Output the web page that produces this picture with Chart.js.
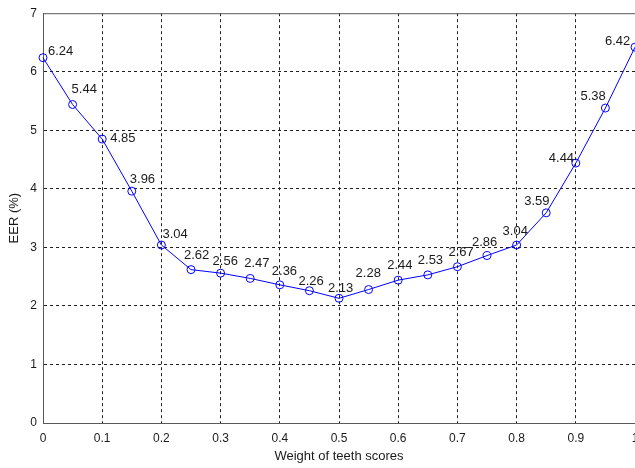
<!DOCTYPE html>
<html>
<head>
<meta charset="utf-8">
<script src="https://cdn.jsdelivr.net/npm/chart.js@4"></script>
<style>
  html, body { margin: 0; padding: 0; background: #fff; overflow: hidden; }
  #wrap { width: 700px; height: 468px; }
</style>
</head>
<body>
<div id="wrap"><canvas id="chart" width="700" height="468"></canvas></div>
<script>
// ── data ──
const weights = [0, 0.05, 0.1, 0.15, 0.2, 0.25, 0.3, 0.35, 0.4, 0.45, 0.5,
                 0.55, 0.6, 0.65, 0.7, 0.75, 0.8, 0.85, 0.9, 0.95, 1];
const eer = [6.24, 5.44, 4.85, 3.96, 3.04, 2.62, 2.56, 2.47, 2.36, 2.26, 2.13,
             2.28, 2.44, 2.53, 2.67, 2.86, 3.04, 3.59, 4.44, 5.38, 6.42];
const xTicks = [0, 0.1, 0.2, 0.3, 0.4, 0.5, 0.6, 0.7, 0.8, 0.9, 1];
const yTicks = [0, 1, 2, 3, 4, 5, 6, 7];

// label nudges in px (text left edge, text middle) relative to each marker
const labelNudge = [
  [5, -6], [-1, -15], [8, -1], [-2, -12], [1, -11], [-7, -14], [-8, -12],
  [-6, -15], [-8, -13], [-11, -9], [-11, -10], [-13, -16], [-11, -15],
  [-10, -14], [-9, -14], [-15, -13], [-14, -14], [-22, -11], [-27, -5],
  [-25, -12], [-30, -6]
];

const FONT = 'Liberation Sans, Arial, sans-serif';

const pointLabels = {
  id: 'pointLabels',
  afterDatasetsDraw(chart) {
    const ctx = chart.ctx;
    const meta = chart.getDatasetMeta(0);
    ctx.save();
    ctx.font = '13px ' + FONT;
    ctx.fillStyle = '#1a1a1a';
    ctx.textAlign = 'left';
    ctx.textBaseline = 'middle';
    meta.data.forEach((pt, i) => {
      const [dx, dy] = labelNudge[i];
      ctx.fillText(eer[i].toFixed(2), pt.x + dx, pt.y + dy);
    });
    ctx.restore();
  }
};

const frameBox = {
  id: 'frameBox',
  beforeDatasetsDraw(chart) {
    const { ctx, chartArea: a } = chart;
    ctx.save();
    ctx.strokeStyle = '#5a5a5a';
    ctx.lineWidth = 1;
    ctx.strokeRect(a.left + 0.5, a.top + 0.5, a.right - a.left, a.bottom - a.top);
    ctx.restore();
  }
};

const edgeless = (min, max) => c =>
  (c.tick && (c.tick.value === min || c.tick.value === max)) ? 'rgba(0,0,0,0)' : '#1e1e1e';

new Chart(document.getElementById('chart').getContext('2d'), {
  type: 'line',
  data: {
    datasets: [{
      data: weights.map((w, i) => ({ x: w, y: eer[i] })),
      borderColor: '#0000ff',
      borderWidth: 1,
      backgroundColor: 'rgba(0,0,0,0)',
      pointStyle: 'circle',
      pointRadius: 4,
      pointBorderWidth: 1,
      pointBorderColor: '#0000ff',
      pointBackgroundColor: 'rgba(0,0,0,0)',
      tension: 0,
      clip: false
    }]
  },
  options: {
    responsive: false,
    animation: false,
    layout: { padding: { left: 0, top: 10, right: 65, bottom: 0 } },
    plugins: { legend: { display: false }, tooltip: { enabled: false } },
    scales: {
      x: {
        type: 'linear',
        min: 0, max: 1,
        afterFit: s => { s.height = 45; },
        afterBuildTicks: s => { s.ticks = xTicks.map(v => ({ value: v })); },
        ticks: {
          padding: 8,
          color: '#1a1a1a',
          font: { family: FONT, size: 12 },
          maxRotation: 0,
          autoSkip: false,
          callback: v => String(+v.toFixed(1))
        },
        grid: { color: edgeless(0, 1), lineWidth: 1, drawTicks: false },
        border: { display: true, color: '#5a5a5a', dash: [3, 3] },
        title: {
          display: true,
          text: 'Weight of teeth scores',
          color: '#1a1a1a',
          font: { family: FONT, size: 13 },
          padding: { top: 0, bottom: 4 }
        }
      },
      y: {
        min: 0, max: 7,
        afterFit: s => { s.width = 43; },
        afterBuildTicks: s => { s.ticks = yTicks.map(v => ({ value: v })); },
        ticks: {
          padding: 6,
          color: '#1a1a1a',
          font: { family: FONT, size: 12 }
        },
        grid: { color: edgeless(0, 7), lineWidth: 1, drawTicks: false },
        border: { display: true, color: '#5a5a5a', dash: [3, 3] },
        title: {
          display: true,
          text: 'EER (%)',
          color: '#1a1a1a',
          font: { family: FONT, size: 13 },
          padding: { top: 7, bottom: 4 }
        }
      }
    }
  },
  plugins: [frameBox, pointLabels]
});
</script>
</body>
</html>
